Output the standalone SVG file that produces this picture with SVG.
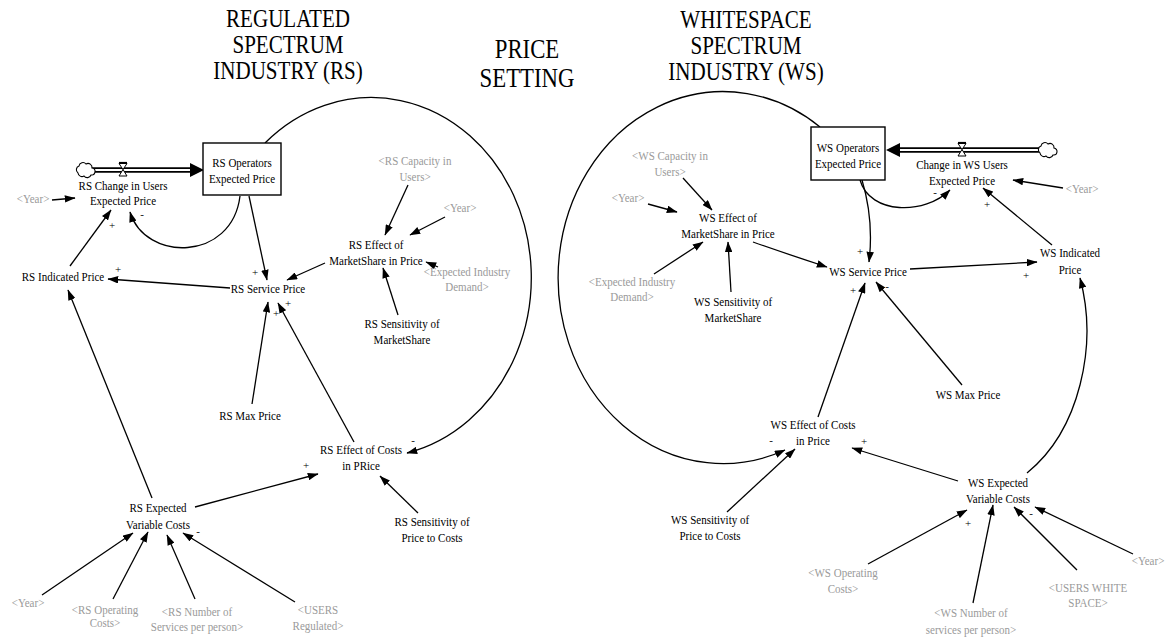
<svg xmlns="http://www.w3.org/2000/svg" width="1168" height="638" viewBox="0 0 1168 638" font-family="'Liberation Serif','Times New Roman',serif">
<defs>
<style>
text{font-family:"Liberation Serif","Times New Roman",serif;fill:#000}
.t{font-size:24.5px;text-anchor:middle}
.t2{font-size:26.5px;text-anchor:middle}
.v{font-size:12.5px;text-anchor:middle}
.sh{fill:#9a9a9a}
.sg{font-size:11px;text-anchor:middle}
.ln{fill:none;stroke:#000;stroke-width:1.3;marker-end:url(#ah)}
.box{fill:#fff;stroke:#000;stroke-width:1.4}
.pipe-o{stroke:#000;stroke-width:5.5;fill:none}
.pipe-i{stroke:#fff;stroke-width:2.2;fill:none}
.valve{fill:#fff;stroke:#000;stroke-width:1}
.cloud{fill:#fff;stroke:#000;stroke-width:1.1}
</style>
<marker id="ah" viewBox="0 0 10 7" refX="9.5" refY="3.5" markerWidth="11" markerHeight="7.5" markerUnits="userSpaceOnUse" orient="auto"><path d="M0 0 L10 3.5 L0 7 z" fill="#000"/></marker>
</defs>
<rect width="1168" height="638" fill="#fff"/>

<!-- section titles -->
<g id="title-rs" transform="translate(288 0) scale(.86 1)"><text class="t" y="27">REGULATED<tspan x="0" y="53">SPECTRUM</tspan><tspan x="0" y="79">INDUSTRY (RS)</tspan></text></g>
<g id="title-price" transform="translate(527 0) scale(.86 1)"><text class="t2" y="58">PRICE<tspan x="0" y="87">SETTING</tspan></text></g>
<g id="title-ws" transform="translate(746 0) scale(.86 1)"><text class="t" y="28">WHITESPACE<tspan x="0" y="54">SPECTRUM</tspan><tspan x="0" y="80">INDUSTRY (WS)</tspan></text></g>

<!-- connectors -->
<g id="connectors">
  <!-- RS side -->
  <path class="ln" d="M265 143 A160 180 0 1 1 407 453"/>
  <path class="ln" d="M52 200 L75 198"/>
  <path class="ln" d="M240 196 C232 262 145 262 130 212"/>
  <path class="ln" d="M70 266 L111 210"/>
  <path class="ln" d="M249 196 L267 280"/>
  <path class="ln" d="M230 288 L108 279"/>
  <path class="ln" d="M325 263 L287 280"/>
  <path class="ln" d="M408 185 L385 235"/>
  <path class="ln" d="M445 217 L410 235"/>
  <path class="ln" d="M438 267 L426 262"/>
  <path class="ln" d="M398 315 L383 268"/>
  <path class="ln" d="M252 404 L268 302"/>
  <path class="ln" d="M354 442 L278 303"/>
  <path class="ln" d="M152 498 L68 290"/>
  <path class="ln" d="M195 507 L318 474"/>
  <path class="ln" d="M418 513 L380 476"/>
  <path class="ln" d="M42 595 L133 533"/>
  <path class="ln" d="M113 599 L148 532"/>
  <path class="ln" d="M195 599 L167 535"/>
  <path class="ln" d="M295 602 L183 533"/>
  <!-- WS side -->
  <path class="ln" d="M820 127 A165 186 0 1 0 785 450"/>
  <path class="ln" d="M1063 188 L1013 180"/>
  <path class="ln" d="M860 180 C870 215 925 215 950 190"/>
  <path class="ln" d="M1052 245 L983 188"/>
  <path class="ln" d="M862 180 Q874 220 869 262"/>
  <path class="ln" d="M753 242 Q790 255 827 267"/>
  <path class="ln" d="M910 269 L1037 262"/>
  <path class="ln" d="M962 385 L876 282"/>
  <path class="ln" d="M818 417 L865 283"/>
  <path class="ln" d="M1027 473 C1080 430 1098 345 1080 278"/>
  <path class="ln" d="M958 481 L852 448"/>
  <path class="ln" d="M727 512 L795 449"/>
  <path class="ln" d="M683 178 L712 210"/>
  <path class="ln" d="M648 204 L677 212"/>
  <path class="ln" d="M654 274 L703 242"/>
  <path class="ln" d="M731 292 L728 242"/>
  <path class="ln" d="M868 564 L967 510"/>
  <path class="ln" d="M973 603 L993 505"/>
  <path class="ln" d="M1077 570 L1014 507"/>
  <path class="ln" d="M1133 554 L1035 507"/>
</g>

<!-- polarity marks -->
<g id="polarity">
  <text class="sg" x="112" y="229">+</text>
  <text class="sg" x="142" y="218">-</text>
  <text class="sg" x="118" y="273">+</text>
  <text class="sg" x="255" y="276">+</text>
  <text class="sg" x="288" y="307">+</text>
  <text class="sg" x="276" y="317">+</text>
  <text class="sg" x="306" y="469">+</text>
  <text class="sg" x="413" y="444">-</text>
  <text class="sg" x="198" y="535">-</text>
  <text class="sg" x="935" y="196">-</text>
  <text class="sg" x="987" y="208">+</text>
  <text class="sg" x="860" y="255">+</text>
  <text class="sg" x="1026" y="279">+</text>
  <text class="sg" x="887" y="290">-</text>
  <text class="sg" x="853" y="294">+</text>
  <text class="sg" x="771" y="444">-</text>
  <text class="sg" x="864" y="445">+</text>
  <text class="sg" x="968" y="527">+</text>
  <text class="sg" x="1031" y="517">-</text>
</g>

<!-- flows -->
<g id="flow-rs">
  <path class="pipe-o" d="M91 170 L192 170"/>
  <path class="pipe-i" d="M91 170 L194 170"/>
  <path d="M190 163 L204 170 L190 177 z" fill="#000"/>
  <path class="cloud" d="M78 173 a4 4 0 0 1 1 -7 a4 4 0 0 1 7 -2 a4 4 0 0 1 6 4 a3.5 3.5 0 0 1 -1 7 a4 4 0 0 1 -7 1 a4 4 0 0 1 -6 -3 z"/>
  <path class="valve" d="M119 163.5 L127 163.5 L123 169.5 Z M123 169.5 L127 176 L119 176 Z"/>
  <path d="M119 162.5 L127 162.5" stroke="#000" stroke-width="1.2"/>
</g>
<g id="flow-ws">
  <path class="pipe-o" d="M1039 150 L897 150"/>
  <path class="pipe-i" d="M1039 150 L895 150"/>
  <path d="M900 143 L886 150 L900 157 z" fill="#000"/>
  <path class="cloud" d="M1040 153 a4 4 0 0 1 1 -7 a4 4 0 0 1 7 -2 a4 4 0 0 1 6 4 a3.5 3.5 0 0 1 -1 7 a4 4 0 0 1 -7 1 a4 4 0 0 1 -6 -3 z"/>
  <path class="valve" d="M958 143.5 L966 143.5 L962 149.5 Z M962 149.5 L966 156 L958 156 Z"/>
  <path d="M958 142.5 L966 142.5" stroke="#000" stroke-width="1.2"/>
</g>

<!-- RS variables -->
<g id="rs-operators-expected-price">
  <rect class="box" x="203" y="143" width="78" height="52"/>
  <text class="v" transform="translate(242 0) scale(.88 1)" y="167">RS Operators<tspan x="0" y="183">Expected Price</tspan></text>
</g>
<g id="rs-change" transform="translate(123 0) scale(.88 1)"><text class="v" y="190">RS Change in Users<tspan x="0" y="205">Expected Price</tspan></text></g>
<g id="rs-year-1" transform="translate(33 0) scale(.88 1)"><text class="v sh" y="203">&lt;Year&gt;</text></g>
<g id="rs-indicated-price" transform="translate(63 0) scale(.88 1)"><text class="v" y="281">RS Indicated Price</text></g>
<g id="rs-service-price" transform="translate(268 0) scale(.88 1)"><text class="v" y="293">RS Service Price</text></g>
<g id="rs-effect-marketshare" transform="translate(376 0) scale(.88 1)"><text class="v" y="249">RS Effect of<tspan x="0" y="265">MarketShare in Price</tspan></text></g>
<g id="rs-capacity" transform="translate(415 0) scale(.88 1)"><text class="v sh" y="165">&lt;RS Capacity in<tspan x="0" y="181">Users&gt;</tspan></text></g>
<g id="rs-year-2" transform="translate(460 0) scale(.88 1)"><text class="v sh" y="212">&lt;Year&gt;</text></g>
<g id="rs-expected-demand" transform="translate(467 0) scale(.88 1)"><text class="v sh" y="276">&lt;Expected Industry<tspan x="0" y="291">Demand&gt;</tspan></text></g>
<g id="rs-sensitivity-marketshare" transform="translate(402 0) scale(.88 1)"><text class="v" y="328">RS Sensitivity of<tspan x="0" y="344">MarketShare</tspan></text></g>
<g id="rs-max-price" transform="translate(250 0) scale(.88 1)"><text class="v" y="420">RS Max Price</text></g>
<g id="rs-effect-costs" transform="translate(361 0) scale(.88 1)"><text class="v" y="454">RS Effect of Costs<tspan x="0" y="470">in PRice</tspan></text></g>
<g id="rs-expected-variable-costs" transform="translate(158 0) scale(.88 1)"><text class="v" y="512">RS Expected<tspan x="0" y="529">Variable Costs</tspan></text></g>
<g id="rs-sensitivity-price-costs" transform="translate(432 0) scale(.88 1)"><text class="v" y="526">RS Sensitivity of<tspan x="0" y="542">Price to Costs</tspan></text></g>
<g id="rs-year-3" transform="translate(28 0) scale(.88 1)"><text class="v sh" y="607">&lt;Year&gt;</text></g>
<g id="rs-operating-costs" transform="translate(105 0) scale(.88 1)"><text class="v sh" y="614">&lt;RS Operating<tspan x="0" y="627">Costs&gt;</tspan></text></g>
<g id="rs-services-per-person" transform="translate(197 0) scale(.88 1)"><text class="v sh" y="616">&lt;RS Number of<tspan x="0" y="631">Services per person&gt;</tspan></text></g>
<g id="rs-users-regulated" transform="translate(318 0) scale(.88 1)"><text class="v sh" y="614">&lt;USERS<tspan x="0" y="630">Regulated&gt;</tspan></text></g>

<!-- WS variables -->
<g id="ws-operators-expected-price">
  <rect class="box" x="811" y="127" width="74" height="53"/>
  <text class="v" transform="translate(848 0) scale(.88 1)" y="152">WS Operators<tspan x="0" y="168">Expected Price</tspan></text>
</g>
<g id="ws-change" transform="translate(962 0) scale(.88 1)"><text class="v" y="169">Change in WS Users<tspan x="0" y="185">Expected Price</tspan></text></g>
<g id="ws-year-1" transform="translate(1082 0) scale(.88 1)"><text class="v sh" y="193">&lt;Year&gt;</text></g>
<g id="ws-capacity" transform="translate(670 0) scale(.88 1)"><text class="v sh" y="160">&lt;WS Capacity in<tspan x="0" y="176">Users&gt;</tspan></text></g>
<g id="ws-year-2" transform="translate(628 0) scale(.88 1)"><text class="v sh" y="202">&lt;Year&gt;</text></g>
<g id="ws-effect-marketshare" transform="translate(728 0) scale(.88 1)"><text class="v" y="222">WS Effect of<tspan x="0" y="238">MarketShare in Price</tspan></text></g>
<g id="ws-expected-demand" transform="translate(632 0) scale(.88 1)"><text class="v sh" y="286">&lt;Expected Industry<tspan x="0" y="301">Demand&gt;</tspan></text></g>
<g id="ws-sensitivity-marketshare" transform="translate(733 0) scale(.88 1)"><text class="v" y="306">WS Sensitivity of<tspan x="0" y="322">MarketShare</tspan></text></g>
<g id="ws-service-price" transform="translate(868 0) scale(.88 1)"><text class="v" y="276">WS Service Price</text></g>
<g id="ws-indicated-price" transform="translate(1070 0) scale(.88 1)"><text class="v" y="257">WS Indicated<tspan x="0" y="274">Price</tspan></text></g>
<g id="ws-max-price" transform="translate(968 0) scale(.88 1)"><text class="v" y="399">WS Max Price</text></g>
<g id="ws-effect-costs" transform="translate(813 0) scale(.88 1)"><text class="v" y="429">WS Effect of Costs<tspan x="0" y="445">in Price</tspan></text></g>
<g id="ws-sensitivity-price-costs" transform="translate(710 0) scale(.88 1)"><text class="v" y="524">WS Sensitivity of<tspan x="0" y="540">Price to Costs</tspan></text></g>
<g id="ws-expected-variable-costs" transform="translate(998 0) scale(.88 1)"><text class="v" y="487">WS Expected<tspan x="0" y="503">Variable Costs</tspan></text></g>
<g id="ws-operating-costs" transform="translate(843 0) scale(.88 1)"><text class="v sh" y="577">&lt;WS Operating<tspan x="0" y="593">Costs&gt;</tspan></text></g>
<g id="ws-services-per-person" transform="translate(971 0) scale(.88 1)"><text class="v sh" y="617">&lt;WS Number of<tspan x="0" y="634">services per person&gt;</tspan></text></g>
<g id="ws-users-white-space" transform="translate(1088 0) scale(.88 1)"><text class="v sh" y="592">&lt;USERS WHITE<tspan x="0" y="607">SPACE&gt;</tspan></text></g>
<g id="ws-year-3" transform="translate(1148 0) scale(.88 1)"><text class="v sh" y="565">&lt;Year&gt;</text></g>
</svg>
